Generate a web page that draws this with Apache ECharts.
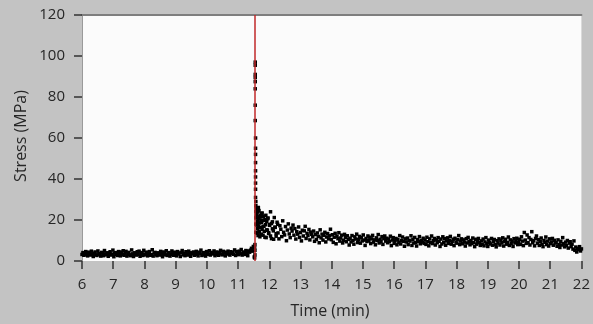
<!DOCTYPE html>
<html>
<head>
<meta charset="utf-8">
<script src="https://cdn.jsdelivr.net/npm/echarts@6/dist/echarts.min.js"></script>
<style>
  html, body { margin: 0; padding: 0; background: #c3c3c3; }
  #chart { width: 593px; height: 324px; }
</style>
</head>
<body>
<div id="chart"></div>
<script>
// waveform time base (min)
const sampleStep = 0.03
const preStart = 6.0
const postStart = 11.59
const breakTime = 11.55

// axis ranges / tick spacing
const yRange = [0, 120]
const yStep = 20
const xRange = [6, 22]
const xStep = 1

// stress before the break (MPa)
const preStress = [
  3.2,4.1,2.8,3.9,4.6,3.1,2.5,4.3,3.7,2.9,4.8,3.4,2.2,3.8,4.4,3.0,2.7,4.9,3.6,3.3,
  2.4,4.2,3.9,2.6,5.1,3.5,3.0,4.0,2.3,3.7,4.5,2.9,3.4,5.3,2.1,3.8,4.1,3.2,2.7,4.6,
  3.6,2.5,4.4,3.1,5.0,2.8,3.9,4.7,2.4,3.3,4.2,3.0,2.6,5.4,3.5,2.2,4.0,3.7,2.9,4.5,
  3.2,4.8,2.3,3.6,4.1,2.7,5.2,3.4,3.0,4.3,2.5,3.8,4.6,2.8,3.1,5.5,2.4,3.9,4.2,3.3,
  2.6,4.0,3.5,2.9,4.7,3.2,2.1,4.4,3.7,3.0,5.0,2.7,3.6,4.1,2.4,3.3,4.9,3.8,2.8,4.3,
  3.1,2.5,4.6,3.4,3.9,2.2,4.2,5.1,3.0,3.7,2.6,4.5,3.3,2.9,4.8,3.6,2.3,4.0,3.5,4.4,
  2.8,3.9,4.7,3.2,2.5,4.3,3.8,5.3,2.7,3.4,4.1,3.0,2.4,4.6,3.7,3.3,5.0,2.9,4.2,3.6,
  3.5,4.9,2.6,3.8,4.4,3.1,2.8,4.1,5.2,3.4,3.0,4.7,3.9,2.5,4.3,3.6,4.8,3.2,2.9,4.5,
  3.8,4.2,3.3,5.4,2.7,4.6,3.9,3.1,4.8,3.5,5.6,2.9,4.0,4.4,3.2,5.1,3.7,2.6,4.9,4.3,
  5.3,6.2,4.8,7.1
]

// spike at the break
const spikeTimes = [11.52,11.53,11.53,11.54,11.54,11.54,11.55,11.55,11.55,11.55,11.55,11.55,11.55,11.55,
  11.56,11.56,11.56,11.56,11.56,11.56,11.56,11.56,11.56,11.57,11.57,11.57,11.57,11.57,11.57,11.58,11.58]
const spikeStress = [2.0,6.5,1.5,8.0,3.0,5.2,97,95.5,91,89.5,87.5,84,76,68.5,
  60,55,52,48,44,41,38,35,31,29,27,24,21,18,14,22,26]

// extra readings in the dense blob right after the break
const burstTimes = [11.60,11.60,11.61,11.62,11.62,11.63,11.64,11.64,11.65,11.66,11.67,11.67,11.68,11.69,11.70,
  11.71,11.72,11.73,11.74,11.75,11.76,11.77,11.78,11.80,11.81,11.83,11.84,11.86,11.88,11.90,
  11.92,11.94,11.96,11.98,12.01,12.04,12.07,12.10,12.14,12.18,12.22,12.27]
const burstStress = [17.5,22.8,13.6,25.3,19.4,15.8,23.9,12.4,20.7,17.1,24.6,14.2,21.5,18.6,11.8,
  22.1,16.3,20.0,13.1,18.9,23.2,15.4,19.7,12.6,21.8,16.9,14.5,20.3,17.7,11.4,
  19.2,15.0,21.0,13.8,17.4,12.2,18.3,15.7,10.6,16.5,13.3,17.9]

// stress after the break (MPa)
const postStress = [
  24.5,18.2,26.1,14.3,21.7,12.8,23.4,16.9,19.8,11.6,22.3,15.2,20.6,13.4,17.8,24.0,10.9,19.1,14.7,21.2,
  16.4,12.1,18.9,13.7,10.8,17.2,15.5,11.9,19.6,14.0,12.7,16.8,9.9,15.1,18.1,13.2,11.4,16.0,14.6,17.5,
  12.6,15.8,10.7,14.3,13.1,16.6,11.5,13.9,9.8,15.0,12.2,14.7,16.9,11.0,13.5,12.4,15.4,10.3,14.1,13.0,
  11.8,14.6,9.6,12.9,10.5,13.7,12.0,8.9,15.2,11.3,13.1,10.2,12.5,14.0,9.3,11.7,13.4,10.8,12.3,15.5,
  10.4,12.8,9.1,11.6,13.5,8.4,12.1,10.9,13.8,9.7,11.2,12.6,8.8,10.1,13.0,11.5,9.4,12.3,10.6,7.8,
  11.1,9.3,12.4,10.0,8.2,11.8,10.7,13.1,9.0,10.4,12.0,8.7,11.4,9.8,12.7,10.2,7.6,11.0,9.5,12.2,
  9.9,11.6,8.5,10.8,12.5,9.2,10.3,7.9,11.3,10.0,12.9,8.8,10.6,9.5,11.9,8.1,10.9,12.2,9.7,11.1,
  8.9,10.7,9.4,12.1,7.5,10.2,11.4,8.6,9.8,11.0,7.9,10.5,9.1,12.4,8.3,10.0,11.7,9.6,7.2,10.8,
  9.3,11.2,8.0,10.1,9.7,12.3,7.6,10.6,8.8,11.5,9.0,7.3,10.4,9.5,11.9,8.4,10.0,9.2,11.1,8.6,
  10.2,8.1,11.6,9.4,7.4,10.8,9.0,12.2,8.5,9.9,11.0,7.8,10.3,8.9,11.4,9.6,7.1,10.7,8.3,11.8,
  9.1,10.9,7.7,9.8,11.3,8.6,10.1,12.0,8.2,9.5,10.6,7.5,11.1,9.3,8.7,10.4,12.4,8.0,9.7,10.8,
  8.4,10.3,9.2,7.3,10.9,8.8,11.5,9.6,7.9,10.0,8.5,11.2,9.0,7.0,10.6,8.2,9.4,11.0,8.9,7.6,
  9.8,8.1,10.7,7.4,9.3,11.4,8.6,7.1,10.2,9.0,8.3,11.0,7.7,9.6,10.5,8.0,6.9,9.9,8.7,10.8,
  7.8,10.1,8.9,11.3,7.3,9.5,10.6,8.2,9.0,11.7,7.6,10.3,8.5,9.7,7.1,10.9,8.8,9.4,11.1,8.0,
  9.2,10.6,8.1,11.8,9.7,7.5,13.9,10.2,8.6,12.7,9.0,11.4,7.8,10.5,14.3,8.9,9.9,7.4,11.0,12.2,
  8.7,10.4,7.6,9.5,11.2,8.2,7.0,10.0,9.1,11.7,8.0,9.7,7.3,10.8,8.5,9.3,11.0,7.7,10.1,8.8,
  9.0,7.2,10.3,8.1,6.6,9.6,7.8,11.4,8.4,6.9,9.2,7.5,10.0,6.3,8.7,9.4,7.0,8.2,5.8,9.8,
  5.2,6.8,4.4,6.1,5.6,7.0,4.9,5.9
]

const chart = echarts.init(document.getElementById('chart'))

const textColor = '#262626'
const font = '"Open Sans", sans-serif'

const preData = preStress.map((v, i) => [preStart + i * sampleStep, v])
const spikeData = spikeTimes.map((t, i) => [t, spikeStress[i]])
const burstData = burstTimes.map((t, i) => [t, burstStress[i]])
const postData = postStress.map((v, i) => [postStart + i * sampleStep, v])

const dotStyle = {
  type: 'scatter',
  symbol: 'rect',
  symbolSize: 3.5,
  itemStyle: { color: '#000', opacity: 1 },
  silent: true,
  animation: false
}

const option = {
  backgroundColor: '#c3c3c3',
  grid: {
    left: 82, right: 10, top: 15, bottom: 63,
    show: true,
    backgroundColor: '#fbfbfb',
    borderWidth: 0
  },
  // axis titles as plain text (axis names were hiding the ticks)
  graphic: [
    {
      type: 'text',
      x: 330, y: 311,
      silent: true,
      style: { text: 'Time (min)', font: '16px "Open Sans", sans-serif', fill: textColor, align: 'center', verticalAlign: 'middle' }
    },
    {
      type: 'text',
      x: 21, y: 136,
      rotation: Math.PI / 2,
      silent: true,
      style: { text: 'Stress (MPa)', font: '16px "Open Sans", sans-serif', fill: textColor, align: 'center', verticalAlign: 'middle' }
    }
  ],
  xAxis: [
    {
      type: 'value',
      min: xRange[0], max: xRange[1], interval: xStep,
      axisLine: { show: false },
      axisTick: { show: true, length: 8, lineStyle: { color: '#333', width: 1.5 } },
      axisLabel: { margin: 16, fontSize: 15, color: textColor, fontFamily: font },
      splitLine: { show: false }
    },
    {
      type: 'value',
      position: 'top',
      min: xRange[0], max: xRange[1],
      axisLine: { show: true, lineStyle: { color: '#7e7e7e', width: 2 } },
      axisTick: { show: false },
      axisLabel: { show: false },
      splitLine: { show: false }
    }
  ],
  yAxis: {
    type: 'value',
    min: yRange[0], max: yRange[1], interval: yStep,
    axisLine: { show: true, lineStyle: { color: '#9a9a9a', width: 1 } },
    axisTick: { show: true, length: 8, lineStyle: { color: '#333', width: 1.5 } },
    axisLabel: { margin: 17, fontSize: 15, color: textColor, fontFamily: font },
    splitLine: { show: false }
  },
  series: [
    {
      ...dotStyle,
      name: 'before',
      data: preData,
      markLine: {
        silent: true,
        symbol: 'none',
        label: { show: false },
        lineStyle: { color: '#c0282a', width: 1.5, type: 'solid', opacity: 1 },
        data: [{ xAxis: breakTime }],
        animation: false
      }
    },
    { ...dotStyle, name: 'spike', data: spikeData },
    { ...dotStyle, name: 'burst', data: burstData },
    { ...dotStyle, name: 'after', data: postData }
  ]
}

chart.setOption(option)
</script>
</body>
</html>
